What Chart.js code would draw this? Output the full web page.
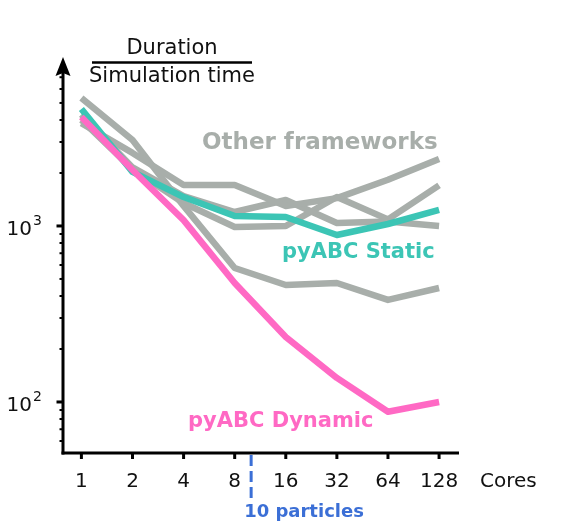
<!DOCTYPE html>
<html>
<head>
<meta charset="utf-8">
<script src="https://cdn.jsdelivr.net/npm/chart.js@4.4.1/dist/chart.umd.min.js"></script>
<style>
  html, body { margin: 0; padding: 0; background: #fff; }
  #wrap { width: 561px; height: 522px; }
</style>
</head>
<body>
<div id="wrap"><canvas id="chart"></canvas></div>
<script>
// Dados (duração / tempo de simulação, escala log)
const cores = ['1', '2', '4', '8', '16', '32', '64', '128'];
const pyabcDynamic = [4160, 2080, 1080, 474, 234, 137, 88, 100];
const pyabcStatic = [4620, 2030, 1460, 1140, 1125, 889, 1026, 1233];
const otherA = [3840, 2600, 1710, 1710, 1300, 1440, 1830, 2400];
const otherB = [4300, 2150, 1480, 1200, 1405, 1040, 1060, 1000];
const otherC = [4000, 2100, 1350, 987, 1000, 1460, 1090, 1700];
const otherD = [5340, 3080, 1300, 577, 462, 474, 380, 444];
const yMajor = [100, 1000];
const yMajorExp = ['2', '3'];
const particleCores = 10;

const GRAY = '#a8aeaa';
const TEAL = '#3cc5b5';
const PINK = '#ff69c4';
const BLUE = '#3b6fd6';
const FONT = '"DejaVu Sans", Verdana, sans-serif';

function pontos(values) {
    return values.map((v, i) => ({ x: i, y: v }));
}

function serie(values, color, order) {
    return {
        data: pontos(values),
        borderColor: color,
        borderWidth: 6.5,
        pointRadius: 0,
        tension: 0,
        borderCapStyle: 'butt',
        borderJoinStyle: 'round',
        order: order
    };
}

// Eixos, setas, rótulos e anotações
const eixosPlugin = {
    id: 'eixos',
    afterDatasetsDraw(chart) {
        const { ctx, chartArea: a } = chart;
        const x = chart.scales.x;
        const y = chart.scales.y;
        ctx.save();
        ctx.strokeStyle = '#000';
        ctx.fillStyle = '#000';

        // eixo y com seta
        ctx.lineWidth = 3;
        ctx.beginPath();
        ctx.moveTo(a.left, a.bottom + 1.5);
        ctx.lineTo(a.left, a.top + 10);
        ctx.stroke();
        ctx.beginPath();
        ctx.moveTo(a.left, a.top);
        ctx.lineTo(a.left - 7.5, a.top + 19);
        ctx.lineTo(a.left, a.top + 16);
        ctx.lineTo(a.left + 7.5, a.top + 19);
        ctx.closePath();
        ctx.fill();

        // eixo x
        ctx.beginPath();
        ctx.moveTo(a.left - 1.5, a.bottom);
        ctx.lineTo(a.right, a.bottom);
        ctx.stroke();

        // marcas do eixo y (log)
        [10, 100, 1000].forEach(dec => {
            for (let m = 1; m <= 9; m++) {
                const v = m * dec;
                if (v < y.min || v > y.max) continue;
                const py = y.getPixelForValue(v);
                if (py < a.top + 18) continue;
                ctx.lineWidth = m === 1 ? 3 : 2;
                ctx.beginPath();
                ctx.moveTo(a.left - (m === 1 ? 6.5 : 3.5), py);
                ctx.lineTo(a.left, py);
                ctx.stroke();
            }
        });

        // marcas do eixo x
        ctx.lineWidth = 3;
        cores.forEach((c, i) => {
            const px = x.getPixelForValue(i);
            ctx.beginPath();
            ctx.moveTo(px, a.bottom);
            ctx.lineTo(px, a.bottom + 6);
            ctx.stroke();
        });

        // rótulos
        ctx.fillStyle = '#111';
        ctx.font = '20px ' + FONT;
        ctx.textBaseline = 'middle';
        ctx.textAlign = 'center';
        cores.forEach((c, i) => {
            ctx.fillText(c, x.getPixelForValue(i), a.bottom + 29);
        });
        ctx.textAlign = 'left';
        ctx.fillText('Cores', a.right + 21, a.bottom + 29);

        // 10^n com expoente
        yMajor.forEach((v, i) => {
            const py = y.getPixelForValue(v);
            ctx.font = '20px ' + FONT;
            ctx.textAlign = 'right';
            ctx.textBaseline = 'alphabetic';
            ctx.fillText('10', 32, py + 9);
            ctx.font = '14px ' + FONT;
            ctx.textAlign = 'left';
            ctx.fillText(yMajorExp[i], 33, py - 1);
        });

        // título em forma de fração
        ctx.font = '21px ' + FONT;
        ctx.textBaseline = 'middle';
        ctx.textAlign = 'center';
        ctx.fillText('Duration', 172, 49);
        ctx.fillText('Simulation time', 172, 77);
        ctx.lineWidth = 2.5;
        ctx.beginPath();
        ctx.moveTo(92, 62.5);
        ctx.lineTo(252, 62.5);
        ctx.stroke();

        // linha tracejada de 10 partículas
        const pxPart = x.getPixelForValue(Math.log2(particleCores));
        ctx.strokeStyle = BLUE;
        ctx.lineWidth = 3;
        ctx.setLineDash([11, 5]);
        ctx.beginPath();
        ctx.moveTo(pxPart, a.bottom + 2);
        ctx.lineTo(pxPart, a.bottom + 47);
        ctx.stroke();
        ctx.setLineDash([]);

        ctx.font = 'bold 18px ' + FONT;
        ctx.fillStyle = BLUE;
        ctx.textAlign = 'left';
        ctx.fillText('10 particles', pxPart - 7, a.bottom + 59);

        // nomes das séries
        ctx.font = 'bold 23px ' + FONT;
        ctx.fillStyle = GRAY;
        ctx.fillText('Other frameworks', 202, 143);
        ctx.font = 'bold 21px ' + FONT;
        ctx.fillStyle = TEAL;
        ctx.fillText('pyABC Static', 282, 253);
        ctx.fillStyle = PINK;
        ctx.fillText('pyABC Dynamic', 188, 422);
        ctx.restore();
    }
};

const ctx = document.getElementById('chart').getContext('2d');
const chart = new Chart(ctx, {
    type: 'line',
    data: {
        datasets: [
            serie(pyabcDynamic, PINK, 0),
            serie(pyabcStatic, TEAL, 1),
            serie(otherA, GRAY, 2),
            serie(otherB, GRAY, 2),
            serie(otherC, GRAY, 2),
            serie(otherD, GRAY, 2)
        ]
    },
    options: {
        responsive: true,
        maintainAspectRatio: false,
        animation: false,
        layout: { padding: { top: 57, right: 102, left: 0, bottom: 0 } },
        plugins: {
            legend: { display: false },
            tooltip: { enabled: false }
        },
        scales: {
            x: {
                type: 'linear',
                min: -0.36,
                max: 7.39,
                grid: { display: false },
                border: { display: false },
                ticks: { display: false },
                afterFit: s => { s.height = 69; }
            },
            y: {
                type: 'logarithmic',
                min: 51.3,
                max: 9120,
                grid: { display: false },
                border: { display: false },
                ticks: { display: false },
                afterFit: s => { s.width = 63; }
            }
        }
    },
    plugins: [eixosPlugin]
});
</script>
</body>
</html>
